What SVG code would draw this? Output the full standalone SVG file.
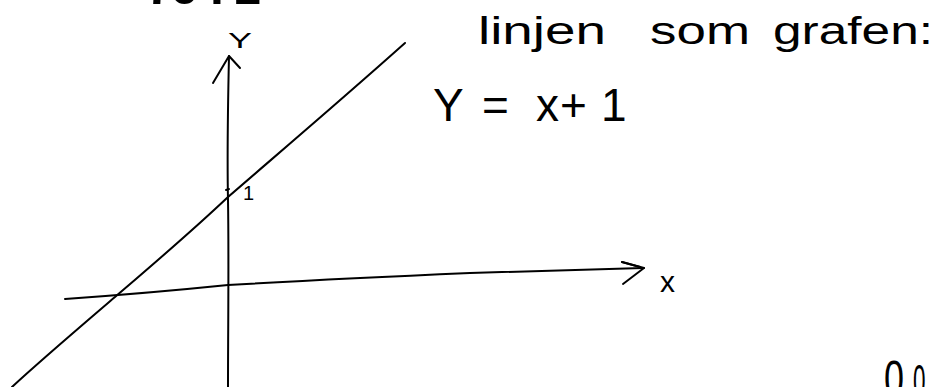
<svg xmlns="http://www.w3.org/2000/svg" width="938" height="387" viewBox="0 0 938 387">
  <style>
    .ink { fill: none; stroke: #000; stroke-width: 2; stroke-linecap: round; stroke-linejoin: round; }
    .hand { font-family: "Liberation Sans", Arial, sans-serif; fill: #000; }
    .bold { font-family: "Liberation Sans", Arial, sans-serif; font-weight: bold; fill: #000; }
  </style>
  <rect width="938" height="387" fill="#fff"/>

  <g id="heading-fragment">
    <text class="bold" font-size="50" y="4"><tspan x="146">7</tspan><tspan x="170">6</tspan><tspan x="210">.</tspan><tspan x="233">1</tspan></text>
  </g>

  <g id="title">
    <text class="hand" font-size="38" y="44">
      <tspan x="478" textLength="128" lengthAdjust="spacingAndGlyphs">linjen</tspan><tspan x="650" textLength="100" lengthAdjust="spacingAndGlyphs">som</tspan><tspan x="773" textLength="160" lengthAdjust="spacingAndGlyphs">grafen:</tspan>
    </text>
  </g>

  <g id="equation">
    <text class="hand" font-size="46" y="121"><tspan x="433">Y</tspan><tspan x="482">=</tspan><tspan x="536">x</tspan><tspan x="560">+</tspan><tspan x="601">1</tspan></text>
  </g>

  <g id="connectors">
    <g id="y-axis">
      <path class="ink" d="M228 388 C228 330 229 260 228 200 C227 150 228 100 229 56"/>
      <path class="ink" d="M213 83 L229 56 L240 68"/>
    </g>
    <g id="x-axis">
      <path class="ink" d="M65 299 C150 293 228 285 228 285 C330 279 470 273 470 273 C560 270 600 269 644 268"/>
      <path class="ink" d="M622 262 L644 268 L623 284"/>
      <path class="ink" d="M622 262 L640 267" stroke-width="3"/>
    </g>
    <g id="graph-line">
      <path class="ink" d="M12 387 C40 361 80 327 115 297 C150 267 190 233 228 197 C280 152 340 101 405 43"/>
    </g>
    <path id="tick" class="ink" d="M226 190 L229 189"/>
  </g>

  <g id="labels">
    <text class="hand" font-size="22" x="228" y="48" textLength="24" lengthAdjust="spacingAndGlyphs">Y</text>
    <text class="hand" font-size="30" x="660" y="292">x</text>
    <text class="hand" font-size="20" x="243" y="200">1</text>
  </g>

  <g id="bottom-fragment">
    <text class="hand" font-size="50" transform="translate(884 396) scale(0.72 1)">0</text>
    <text class="hand" font-size="45" transform="translate(913 396) scale(0.5 1)">0</text>
  </g>
</svg>
